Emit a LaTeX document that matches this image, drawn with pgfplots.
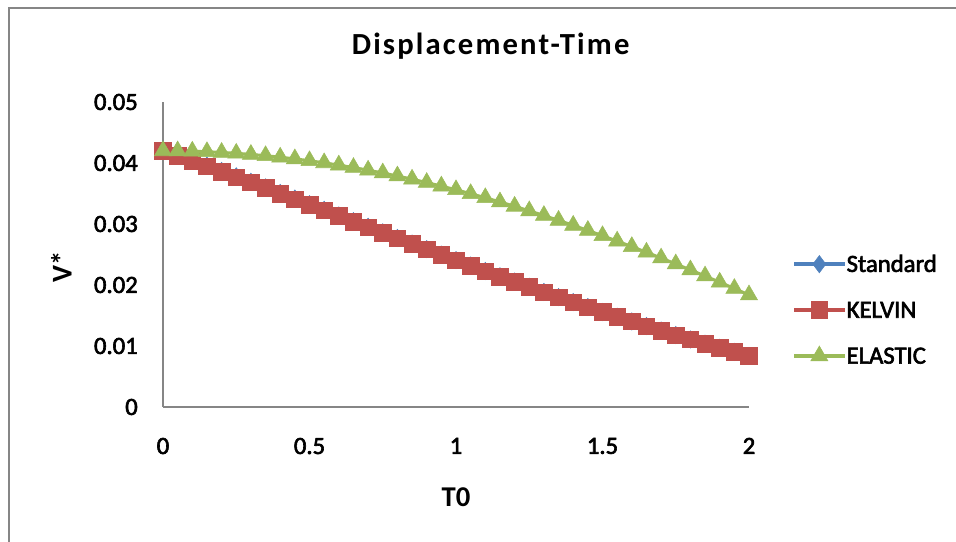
\documentclass[border=0pt]{standalone}
\usepackage{pgfplots}
\pgfplotsset{compat=1.18}
\usepackage{pgfplotstable}
\usepackage{fontspec}
\setmainfont{Carlito}
\newfontfamily\semib[FakeBold=2.5]{Carlito}
\newfontfamily\titlef[LetterSpace=7]{Carlito}
\definecolor{sblue}{HTML}{4F81BD}
\definecolor{sred}{HTML}{C0504D}
\definecolor{sgreen}{HTML}{9BBB59}
\definecolor{agray}{HTML}{868686}

\pgfplotstableread{
t V
0.00 0.042000
0.05 0.041167
0.10 0.040318
0.15 0.039456
0.20 0.038583
0.25 0.037699
0.30 0.036806
0.35 0.035905
0.40 0.034997
0.45 0.034084
0.50 0.033168
0.55 0.032249
0.60 0.031329
0.65 0.030408
0.70 0.029487
0.75 0.028570
0.80 0.027654
0.85 0.026741
0.90 0.025834
0.95 0.024932
1.00 0.024036
1.05 0.023147
1.10 0.022266
1.15 0.021393
1.20 0.020530
1.25 0.019675
1.30 0.018832
1.35 0.018000
1.40 0.017179
1.45 0.016370
1.50 0.015573
1.55 0.014790
1.60 0.014019
1.65 0.013263
1.70 0.012520
1.75 0.011791
1.80 0.011077
1.85 0.010379
1.90 0.009695
1.95 0.009026
2.00 0.008372
}\kelvin

\pgfplotstableread{
t V
0.00 0.042200
0.05 0.041300
0.10 0.040450
0.15 0.039580
0.20 0.038700
0.25 0.037810
0.30 0.036910
0.35 0.036000
0.40 0.035090
0.45 0.034170
0.50 0.033250
0.55 0.032320
0.60 0.031400
0.65 0.030470
0.70 0.029550
0.75 0.028630
0.80 0.027710
0.85 0.026790
0.90 0.025880
0.95 0.024980
1.00 0.024080
1.05 0.023190
1.10 0.022300
1.15 0.021430
1.20 0.020560
1.25 0.019700
1.30 0.018860
1.35 0.018020
1.40 0.017200
1.45 0.016390
1.50 0.015590
1.55 0.014800
1.60 0.014030
1.65 0.013270
1.70 0.012530
1.75 0.011800
1.80 0.011080
1.85 0.010380
1.90 0.009700
1.95 0.009030
2.00 0.008380
}\standard

\pgfplotstableread{
t V
0.00 0.042000
0.05 0.041984
0.10 0.041934
0.15 0.041852
0.20 0.041738
0.25 0.041591
0.30 0.041411
0.35 0.041199
0.40 0.040954
0.45 0.040678
0.50 0.040370
0.55 0.040031
0.60 0.039660
0.65 0.039258
0.70 0.038825
0.75 0.038363
0.80 0.037870
0.85 0.037347
0.90 0.036796
0.95 0.036216
1.00 0.035607
1.05 0.034971
1.10 0.034307
1.15 0.033616
1.20 0.032900
1.25 0.032157
1.30 0.031390
1.35 0.030597
1.40 0.029781
1.45 0.028942
1.50 0.028080
1.55 0.027196
1.60 0.026291
1.65 0.025366
1.70 0.024420
1.75 0.023456
1.80 0.022473
1.85 0.021473
1.90 0.020456
1.95 0.019423
2.00 0.018374
}\elastic

\begin{document}
\begin{tikzpicture}
\path[use as bounding box] (0,0) rectangle (717pt,406.5pt);
\draw[agray, line width=1.2pt] (6.75pt,0) -- (6.75pt,400.5pt) -- (717pt,400.5pt);
\begin{axis}[
  at={(122.25pt,101.25pt)}, anchor=south west,
  scale only axis, width=439.5pt, height=228.75pt,
  xmin=0, xmax=2, ymin=0, ymax=0.05,
  clip=false,
  axis lines*=left,
  axis line style={draw=agray, line width=1pt},
  major tick length=0pt,
  scaled y ticks=false,
  xtick={0,0.5,1,1.5,2},
  ytick={0,0.01,0.02,0.03,0.04,0.05},
  xticklabels={0,0.5,1,1.5,2},
  yticklabels={0,0.01,0.02,0.03,0.04,0.05},
  ticklabel style={font=\semib\fontsize{18.5}{20}\selectfont},
  yticklabel style={anchor=east, inner sep=0pt, xshift=-18.75pt},
  xticklabel style={anchor=north, inner sep=0pt, yshift=-23pt},
  legend cell align=left,
  legend style={draw=none, fill=none, inner sep=0pt, outer sep=0pt,
    at={(1.0734,0.318)}, anchor=west, row sep=12pt,
    font=\semib\fontsize{18.5}{22}\selectfont,
    nodes={inner sep=0pt, text height=17pt, text depth=5.4pt}},
  legend image code/.code={
    \path[draw=none, fill=none] (0pt,-9pt) rectangle (39.5pt,9pt);
    \draw[mark repeat=2, mark phase=2, #1, line width=3pt]
      plot coordinates {(0pt,0pt) (19pt,0pt) (38pt,0pt)};
  },
]
\addplot[sblue, line width=2.25pt, mark=diamond*, mark size=6.5pt,
  mark options={solid, fill=sblue, draw=sblue, line width=0.4pt}]
  table[x=t, y=V] {\standard};
\addlegendentry{Standard}
\addplot[sred, line width=2.25pt, mark=square*, mark size=6.2pt,
  mark options={solid, fill=sred, draw=sred, line width=0.4pt}]
  table[x=t, y=V] {\kelvin};
\addlegendentry{KELVIN}
\addplot[sgreen, line width=2.25pt, mark=triangle*, mark size=7.4pt,
  mark options={solid, fill=sgreen, draw=sgreen, line width=0.4pt}]
  table[x=t, y=V] {\elastic};
\addlegendentry{ELASTIC}
\end{axis}
\node[anchor=base, font=\titlef\bfseries\fontsize{23}{27}\selectfont] at (368pt,365.25pt) {Displacement-Time};
\node[anchor=base, font=\bfseries\fontsize{21.5}{24}\selectfont] at (342pt,26.5pt) {T0};
\node[anchor=base, rotate=90, font=\bfseries\fontsize{21.5}{24}\selectfont] at (53.8pt,206.25pt) {V*};
\end{tikzpicture}
\end{document}
